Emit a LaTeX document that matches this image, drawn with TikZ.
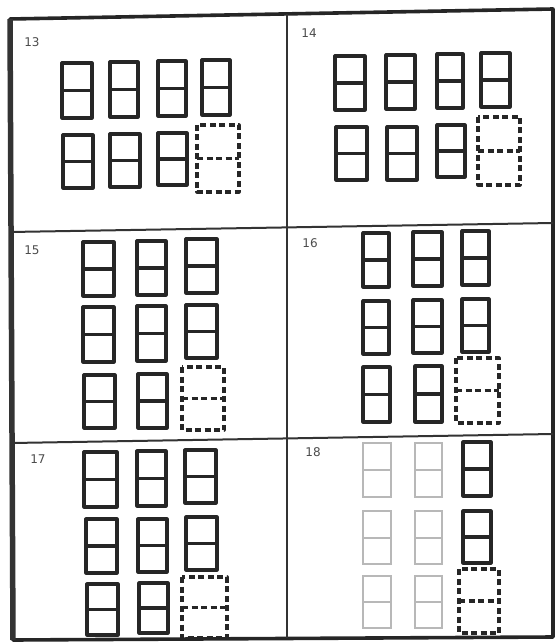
\documentclass[tikz,border=0pt]{standalone}
\usepackage{fontspec}
\setmainfont{DejaVu Sans}
\newcommand\wbox[5][winbox]{%
  \draw[#1] (#2,#3) rectangle (#4,#5);
  \draw[#1] (#2,{(#3+#5)/2}) -- (#4,{(#3+#5)/2});}
\begin{document}
\begin{tikzpicture}[x=1pt,y=-1pt,
  winbox/.style={line width=3.2pt, line join=round, draw=black!85},
  ghostbox/.style={winbox, dash pattern=on 6pt off 3.5pt},
  faintbox/.style={line width=2pt, draw=black!28},
  frameline/.style={line width=3.6pt, draw=black!85, line join=round},
  divline/.style={line width=2pt, draw=black!80},
  numlabel/.style={font=\fontsize{12}{12}\selectfont, text=black!70, inner sep=0pt}]
\useasboundingbox (0,0) rectangle (557,644);
\fill[white] (0,0) rectangle (557,644);
% frame
\draw[frameline] (10,19) -- (553,9) -- (553,637) -- (13,640) -- cycle;
\draw[line width=5.5pt, draw=black!80] (10,19) -- (13,640);
% dividers
\draw[divline] (287,14) -- (287,638);
\draw[divline] (10,232) -- (553,223);
\draw[divline] (12,443) -- (553,434);
% labels
\node[numlabel] (l13) at (32,42) {13};
\node[numlabel] (l14) at (309,33) {14};
\node[numlabel] (l15) at (32,250) {15};
\node[numlabel] (l16) at (310,243) {16};
\node[numlabel] (l17) at (38,459) {17};
\node[numlabel] (l18) at (313,452) {18};
% panel 13
\wbox{62}{63}{92}{118}
\wbox{110}{62}{138}{117}
\wbox{158}{61}{186}{116}
\wbox{202}{60}{230}{115}
\wbox{63}{135}{93}{188}
\wbox{110}{134}{140}{187}
\wbox{158}{133}{187}{185}
\wbox[ghostbox]{197}{125}{239}{192}
% panel 14
\wbox{335}{56}{365}{110}
\wbox{386}{55}{415}{109}
\wbox{437}{54}{463}{108}
\wbox{481}{53}{510}{107}
\wbox{336}{127}{367}{180}
\wbox{387}{127}{417}{180}
\wbox{437}{125}{465}{177}
\wbox[ghostbox]{478}{117}{520}{185}
% panel 15
\wbox{83}{242}{114}{296}
\wbox{137}{241}{166}{295}
\wbox{186}{239}{217}{293}
\wbox{83}{307}{114}{362}
\wbox{137}{306}{166}{361}
\wbox{186}{305}{217}{358}
\wbox{84}{375}{115}{428}
\wbox{138}{374}{167}{428}
\wbox[ghostbox]{182}{367}{224}{430}
% panel 16
\wbox{363}{233}{389}{287}
\wbox{413}{232}{442}{286}
\wbox{462}{231}{489}{285}
\wbox{363}{301}{389}{354}
\wbox{413}{300}{442}{353}
\wbox{462}{299}{489}{352}
\wbox{363}{367}{390}{422}
\wbox{415}{366}{442}{422}
\wbox[ghostbox]{456}{358}{499}{423}
% panel 17
\wbox{84}{452}{117}{507}
\wbox{137}{451}{166}{506}
\wbox{185}{450}{216}{503}
\wbox{86}{519}{117}{573}
\wbox{138}{519}{167}{572}
\wbox{186}{517}{217}{570}
\wbox{87}{584}{118}{635}
\wbox{139}{583}{168}{633}
\wbox[ghostbox]{182}{577}{227}{638}
% panel 18
\wbox[faintbox]{363}{443}{391}{497}
\wbox[faintbox]{415}{443}{442}{497}
\wbox{463}{442}{491}{496}
\wbox[faintbox]{363}{511}{391}{564}
\wbox[faintbox]{415}{511}{442}{564}
\wbox{463}{511}{491}{563}
\wbox[faintbox]{363}{576}{391}{628}
\wbox[faintbox]{415}{576}{442}{628}
\wbox[ghostbox]{459}{569}{499}{633}
\end{tikzpicture}
\end{document}
